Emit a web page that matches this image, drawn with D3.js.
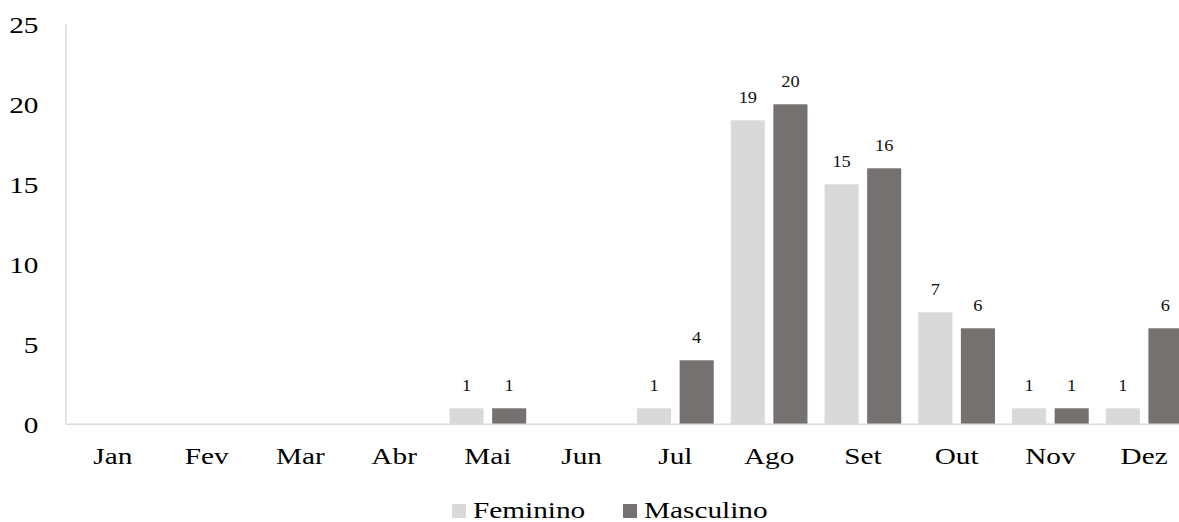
<!DOCTYPE html>
<html><head><meta charset="utf-8">
<script src="https://cdn.jsdelivr.net/npm/d3@7"></script>
<style>body{margin:0;background:#fff}svg{display:block}</style>
</head><body><svg id="c" width="1179" height="522"></svg>
<script>
const months = ["Jan","Fev","Mar","Abr","Mai","Jun","Jul","Ago","Set","Out","Nov","Dez"];
const seriesNames = ["Feminino","Masculino"];
const feminino = [0,0,0,0,1,0,1,19,15,7,1,1];
const masculino = [0,0,0,0,1,0,4,20,16,6,1,6];
const yTicks = [0,5,10,15,20,25];
const colors = {Feminino:"#d9d9d9", Masculino:"#767171"};

const svg = d3.select("#c");
const font = "'Liberation Serif','Times New Roman',serif";
const SX = 1.22;

const x = d3.scaleBand().domain(months).range([66, 1191]).padding(0);
const xi = d3.scaleBand().domain(seriesNames).range([0, x.bandwidth()]).paddingInner(0.2).paddingOuter(0.2);
const y = d3.scaleLinear().domain([0,25]).range([424.3, 24.3]);

const data = months.map((m,i)=>({m, vals:[{s:"Feminino",v:feminino[i]},{s:"Masculino",v:masculino[i]}]}));

svg.append("line").attr("x1",66).attr("x2",66).attr("y1",y(25)).attr("y2",y(0))
  .attr("stroke","#d9d9d9").attr("stroke-width",1.5);

svg.append("g").selectAll("text").data(yTicks).join("text")
  .attr("transform",d=>`translate(38.5,${y(d)}) scale(${SX},1)`)
  .attr("text-anchor","end").attr("dy","0.35em")
  .style("font-family",font).style("font-size","24px").attr("fill","#000")
  .text(d=>d);

const g = svg.append("g").selectAll("g").data(data).join("g")
  .attr("transform",d=>`translate(${x(d.m)},0)`);
g.selectAll("rect").data(d=>d.vals.filter(v=>v.v>0)).join("rect")
  .attr("x",d=>xi(d.s)).attr("width",xi.bandwidth())
  .attr("y",d=>y(d.v)).attr("height",d=>y(0)-y(d.v))
  .attr("fill",d=>colors[d.s]);
g.selectAll("text").data(d=>d.vals.filter(v=>v.v>0)).join("text")
  .attr("transform",d=>`translate(${xi(d.s)+xi.bandwidth()/2},${y(d.v)-17.5}) scale(1.05,1)`)
  .attr("text-anchor","middle")
  .style("font-family",font).style("font-size","17.5px").attr("fill","#111")
  .text(d=>d.v);

svg.append("line").attr("x1",66).attr("x2",1179).attr("y1",y(0)).attr("y2",y(0))
  .attr("stroke","#d9d9d9").attr("stroke-width",1.5);

svg.append("g").selectAll("text").data(months).join("text")
  .attr("transform",d=>`translate(${x(d)+x.bandwidth()/2},464) scale(${SX},1)`)
  .attr("text-anchor","middle")
  .style("font-family",font).style("font-size","24px").attr("fill","#000")
  .text(d=>d);

const legX = [452, 623];
const lg = svg.append("g").selectAll("g").data(seriesNames).join("g")
  .attr("transform",(d,i)=>`translate(${legX[i]},0)`);
lg.append("rect").attr("x",0).attr("y",504).attr("width",14).attr("height",14).attr("fill",d=>colors[d]);
lg.append("text").attr("transform",`translate(21,518) scale(${SX},1)`)
  .style("font-family",font).style("font-size","24px").attr("fill","#000")
  .text(d=>d);
</script></body></html>
